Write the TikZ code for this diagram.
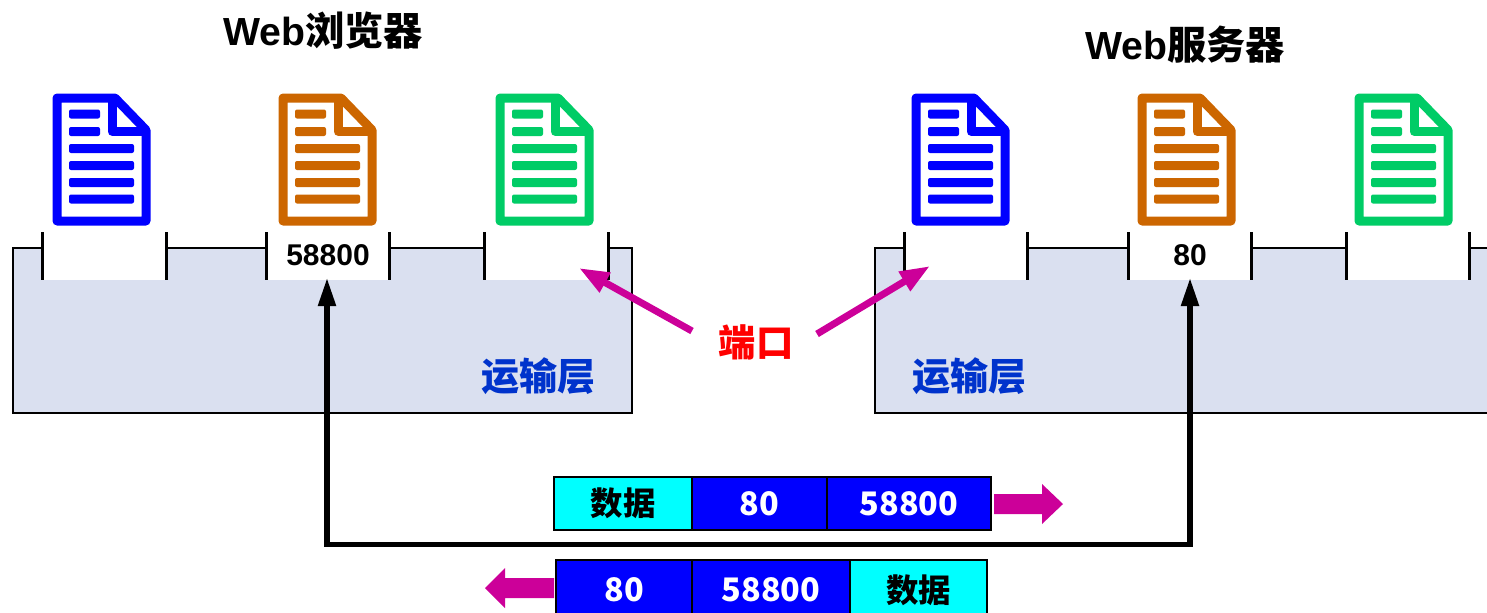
\documentclass[tikz,border=0pt]{standalone}
\usepackage{fontspec}
\setmainfont{Liberation Sans}
\newfontfamily\cjk{Noto Sans CJK SC}
\usetikzlibrary{arrows.meta}
\definecolor{docblue}{HTML}{0000FF}
\definecolor{docorange}{HTML}{CC6600}
\definecolor{docgreen}{HTML}{00CC66}
\definecolor{pinkarrow}{HTML}{CC0099}
\definecolor{layerfill}{HTML}{DAE0F0}
\definecolor{layertext}{HTML}{0033CC}
\definecolor{datacyan}{HTML}{00FFFF}
\newcommand{\lowr}[1]{\raisebox{-0.5pt}{#1}}
\newcommand{\upr}[1]{\raisebox{1pt}{#1}}
\tikzset{
  x=0.5pt,y=-0.5pt,
  layerbox/.style={draw=black,line width=1pt,fill=layerfill,outer sep=0pt},
  portbox/.style={fill=white,draw=none,minimum width=61.5pt,minimum height=25pt,inner sep=0pt,font=\bfseries\fontsize{15}{16}\selectfont,text=black},
  tick/.style={draw=black,line width=1.7pt},
  title/.style={font=\fontsize{19.6}{22}\selectfont\bfseries,inner sep=0pt},
  layerlabel/.style={font=\cjk\bfseries\fontsize{19}{22}\selectfont,text=layertext,inner sep=0pt},
  portlabel/.style={font=\cjk\bfseries\fontsize{18.7}{22}\selectfont,text=red,inner sep=0pt},
  pointer/.style={draw=pinkarrow,line width=3.5pt,-{Triangle[length=15pt,width=10.5pt]}},
  route/.style={draw=black,line width=2.6pt,{Triangle[length=14pt,width=8.5pt]}-{Triangle[length=14pt,width=8.5pt]}},
  cell/.style={draw=black,line width=1.2pt,outer sep=0pt,minimum height=26.5pt,inner sep=0pt,font=\cjk\bfseries\fontsize{16.2}{20}\selectfont},
  datacell/.style={cell,fill=datacyan,text=black},
  numcell/.style={cell,fill=docblue,text=white},
  lowrow/.style={minimum height=30pt},
  block/.style={fill=pinkarrow,draw=none},
  pics/docicon/.style={code={
    \draw[#1,line width=4.5pt,line join=round,fill=white] (5,5)--(63,5)--(94,37)--(94,128)--(5,128)--cycle;
    \draw[#1,line width=4.5pt,line join=round] (60,5)--(60,38.5)--(94,38.5);
    \foreach \yy/\xe in {21/48,38.5/48,55.5/82,72.5/82,89.5/82,106/82}{
      \fill[#1,rounded corners=1pt] (17,\yy-4.5) rectangle (\xe,\yy+4.5);
    }
  }}
}
\begin{document}
\begin{tikzpicture}
\useasboundingbox (0,0) rectangle (1487,612);
\clip (0,0) rectangle (1487,612);
% transport layer boxes
\node[layerbox,minimum width=309.5pt,minimum height=82.5pt,inner sep=0pt,anchor=north west] (layerL) at (13,248) {};
\node[layerbox,minimum width=340pt,minimum height=82.5pt,inner sep=0pt,anchor=north west] (layerR) at (875,248) {};
% ports
\foreach \n/\xa/\xb/\t in {a/42.5/166.5/,b/266.5/389.5/58800,c/484.5/608.5/,d/904.5/1027.5/,e/1128.5/1251.5/80,f/1346.5/1469.5/}{
  \node[portbox] (port\n) at ({(\xa+\xb)/2},255) {\t};
  \draw[tick] (\xa,232) -- (\xa,280) (\xb,232) -- (\xb,280);
}
% documents
\foreach \x/\c in {52/docblue,278/docorange,495/docgreen,911/docblue,1137/docorange,1354/docgreen}{
  \pic at (\x,93) {docicon=\c};
}
% titles
\node[title] (titleL) at (323,31) {Web{\cjk\bfseries 浏览器}};
\node[title] (titleR) at (1185,45) {Web{\cjk\bfseries 服务器}};
% labels
\node[layerlabel] (transL) at (538,376) {运输层};
\node[layerlabel] (transR) at (969,376) {运输层};
\node[portlabel] (ports) at (756,342) {端口};
% pointers
\coordinate (tipL) at (579,268);
\coordinate (tipR) at (930,266);
\coordinate (tailL) at (692,331);
\coordinate (tailR) at (817,334);
\draw[pointer] (tailL) -- (tipL);
\draw[pointer] (tailR) -- (tipR);
% packets
\node[datacell,minimum width=69pt,anchor=north west] (d1) at (554,477) {\lowr{数据}};
\node[numcell,minimum width=67.5pt,anchor=north west] (n1) at (692,477) {\lowr{80}};
\node[numcell,minimum width=82pt,anchor=north west] (s1) at (827,477) {\lowr{58800}};
\node[numcell,lowrow,minimum width=68pt,anchor=north west] (n2) at (556,560) {\upr{80}};
\node[numcell,lowrow,minimum width=79pt,anchor=north west] (s2) at (692,560) {\upr{58800}};
\node[datacell,lowrow,minimum width=68.5pt,anchor=north west] (d2) at (850,560) {\upr{数据}};
% block arrows
\fill[block] (994,494) -- (1042,494) -- (1042,484) -- (1063,504) -- (1042,524) -- (1042,514) -- (994,514) -- cycle;
\fill[block] (554,578) -- (505,578) -- (505,568) -- (485,588) -- (505,608) -- (505,598) -- (554,598) -- cycle;
% route between ports
\coordinate (routeL) at (327,544.5);
\coordinate (routeR) at (1190,544.5);
\draw[route] (327,278) -- (routeL) -- (routeR) -- (1190,278);
\end{tikzpicture}
\end{document}
